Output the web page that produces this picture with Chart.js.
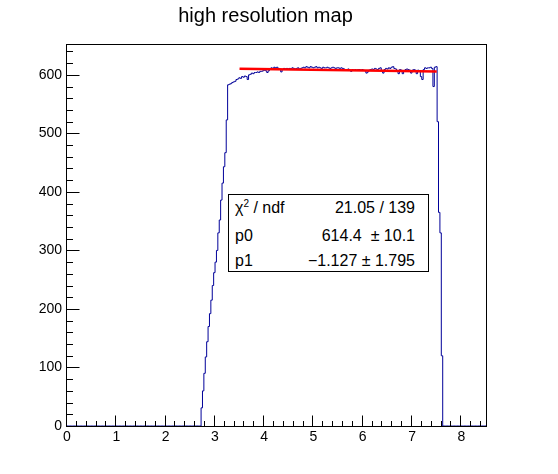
<!DOCTYPE html>
<html>
<head>
<meta charset="utf-8">
<script src="https://cdn.jsdelivr.net/npm/chart.js@4.4.1/dist/chart.umd.min.js"></script>
<style>
  body { margin: 0; background: #fff; }
  #wrap { position: relative; width: 558px; height: 474px; font-family: "Liberation Sans", Arial, sans-serif; }
  #stats { position: absolute; left: 228px; top: 194px; width: 201px; height: 78px; box-sizing: border-box;
           border: 1px solid #000; background: #fff; font-size: 16px; color: #000; }
  #stats .lab { position: absolute; left: 6px; line-height: 18px; }
  #stats .val { position: absolute; right: 13px; line-height: 18px; white-space: pre; }
  sup { font-size: 10px; vertical-align: 6px; line-height: 0; }
</style>
</head>
<body>
<div id="wrap">
  <canvas id="canvas" width="558" height="474"></canvas>
  <div id="stats"></div>
</div>
<script>
// histogram: 300 bins from 0 to 8.5, only bins 96..268 are filled
var nBins = 300;
var xMin = 0;
var xMax = 8.5;
var firstFilledBin = 96;
var binContents = [
  31, 60, 90, 118, 144, 170, 192, 215, 240, 262,
  280, 300, 330, 352, 386, 415, 443, 467, 523,
  583, 584, 585, 587, 588, 589, 592, 593, 595,
  594, 597, 596, 598, 597, 592, 600, 601, 603, 602,
  604, 604, 605, 604, 606, 606, 607, 608, 607, 604,
  607, 610, 612, 611, 613, 612, 613, 611, 610, 605,
  609, 611, 610, 611, 610, 611, 610, 612, 611, 610,
  611, 612, 610, 611, 612, 613, 612, 614, 613, 612,
  614, 613, 612, 613, 614, 612, 613, 612, 611, 613,
  612, 612, 613, 612, 611, 612, 613, 612, 611, 612,
  612, 611, 612, 611, 610, 609, 609, 610, 608, 606,
  609, 608, 609, 608, 609, 609, 608, 609, 608, 607,
  603, 605, 608, 609, 610, 609, 611, 610, 609, 611,
  612, 607, 603, 609, 611, 610, 612, 611, 613, 614,
  611, 610, 606, 602, 609, 608, 602, 606, 609, 610,
  609, 608, 603, 608, 609, 608, 602, 608, 606, 597,
  592, 609, 612, 611, 612, 612, 613, 611, 580, 613,
  614, 520, 365, 330, 120
];

// linear fit pol1 drawn over its range
var fitX = [3.5, 7.5];
var fitY = [610.5, 605.9];

var xTickValues = [0, 1, 2, 3, 4, 5, 6, 7, 8];
var yTickValues = [0, 100, 200, 300, 400, 500, 600];
var yMax = 651;

var titleText = "high resolution map";
var statsLabels = ["χ<sup>2</sup> / ndf", "p0", "p1"];
var statsValues = ["21.05 / 139", "614.4  \u00b1 10.1", "\u22121.127 \u00b1 1.795"];

var font = "'Liberation Sans', Arial, sans-serif";

var binWidth = (xMax - xMin) / nBins;
var histPoints = [];
for (var i = 0; i < nBins; i++) {
  var j = i - firstFilledBin;
  var c = (j >= 0 && j < binContents.length) ? binContents[j] : 0;
  histPoints.push({ x: xMin + i * binWidth, y: c });
}
histPoints.push({ x: xMax, y: 0 });

var fitPoints = fitX.map(function (x, k) { return { x: x, y: fitY[k] }; });

// stats box
var rowTops = [4, 32, 57];
var html = "";
statsLabels.forEach(function (lab, k) {
  html += '<span class="lab" style="top:' + rowTops[k] + 'px">' + lab + '</span>';
  html += '<span class="val" style="top:' + rowTops[k] + 'px">' + statsValues[k] + '</span>';
});
document.getElementById("stats").innerHTML = html;

// frame + inward ticks like ROOT
var frameTicks = {
  id: "frameTicks",
  afterDatasetsDraw: function (chart) {
    var ctx = chart.ctx;
    var a = chart.chartArea;
    var xs = chart.scales.x, ys = chart.scales.y;
    ctx.save();
    ctx.strokeStyle = "#000";
    ctx.lineWidth = 1;
    ctx.strokeRect(Math.round(a.left) - 0.5, Math.round(a.top) - 0.5,
                   Math.round(a.right - a.left) + 1, Math.round(a.bottom - a.top) + 1);
    ctx.beginPath();
    var b = Math.round(a.bottom) + 0.5;
    for (var k = 0; k <= 42; k++) {
      var px = Math.round(xs.getPixelForValue(k * 0.2)) - 0.5;
      if (px > a.right) break;
      var len = (k % 5 === 0) ? 11 : 5.5;
      ctx.moveTo(px, b);
      ctx.lineTo(px, b - len);
    }
    var l = Math.round(a.left) - 0.5;
    for (var m = 0; m <= 32; m++) {
      var py = Math.round(ys.getPixelForValue(m * 20)) + 0.5;
      if (py < a.top) break;
      var len2 = (m % 5 === 0) ? 13 : 6.5;
      ctx.moveTo(l, py);
      ctx.lineTo(l + len2, py);
    }
    ctx.stroke();
    ctx.restore();
  }
};

const ctx = document.getElementById("canvas").getContext("2d");
const myChart = new Chart(ctx, {
  type: "line",
  data: {
    datasets: [
      {
        label: "fit",
        data: fitPoints,
        borderColor: "#ff0000",
        borderWidth: 2.5,
        pointRadius: 0,
        fill: false,
        order: 0,
      },
      {
        label: "hist",
        data: histPoints,
        borderColor: "#000099",
        borderWidth: 1,
        stepped: "before",
        pointRadius: 0,
        fill: false,
        tension: 0,
        order: 1,
      },
    ],
  },
  options: {
    responsive: false,
    animation: false,
    events: [],
    layout: { padding: { left: 0, right: 27, top: 0, bottom: 0 } },
    plugins: {
      legend: { display: false },
      tooltip: { enabled: false },
      title: {
        display: true,
        text: titleText,
        color: "#000",
        font: { family: font, size: 20, weight: "normal" },
        padding: { top: 4, bottom: 17 },
      },
    },
    scales: {
      x: {
        type: "linear",
        min: xMin,
        max: xMax,
        grid: { display: false, drawTicks: false },
        border: { display: false },
        afterBuildTicks: function (s) { s.ticks = xTickValues.map(function (v) { return { value: v }; }); },
        afterFit: function (s) { s.height = 48; },
        ticks: { color: "#000", font: { family: font, size: 14 }, padding: 3, maxRotation: 0, autoSkip: false },
      },
      y: {
        type: "linear",
        min: 0,
        max: yMax,
        grid: { display: false, drawTicks: false },
        border: { display: false },
        afterBuildTicks: function (s) { s.ticks = yTickValues.map(function (v) { return { value: v }; }); },
        afterFit: function (s) { s.width = 67; },
        ticks: { color: "#000", font: { family: font, size: 14 }, padding: 5 },
      },
      // empty right-hand box that sets the right edge of the frame
      yRight: {
        type: "linear",
        position: "right",
        min: 0,
        max: yMax,
        grid: { display: false, drawTicks: false },
        border: { display: false },
        ticks: { display: false },
        afterFit: function (s) { s.width = 45; },
      },
    },
  },
  plugins: [frameTicks],
});
</script>
</body>
</html>
